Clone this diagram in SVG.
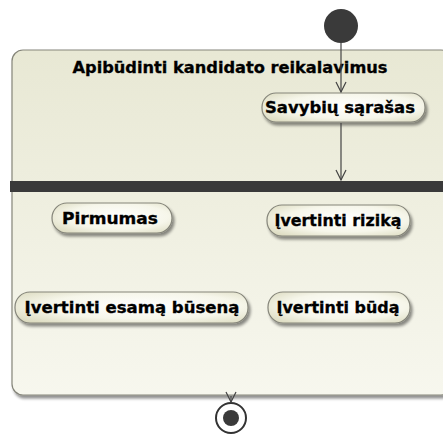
<svg xmlns="http://www.w3.org/2000/svg" width="443" height="434" viewBox="0 0 443 434">
  <defs>
    <linearGradient id="gContainer" x1="0" y1="0" x2="0" y2="1">
      <stop offset="0" stop-color="#e8e8d4"/>
      <stop offset="1" stop-color="#f7f7ee"/>
    </linearGradient>
    <radialGradient id="gAction" cx="0.55" cy="0.45" r="0.7">
      <stop offset="0" stop-color="#ffffff"/>
      <stop offset="0.6" stop-color="#f6f6ea"/>
      <stop offset="1" stop-color="#dcdbc0"/>
    </radialGradient>
    <filter id="shadow" x="-10%" y="-10%" width="130%" height="150%">
      <feGaussianBlur in="SourceAlpha" stdDeviation="1.5"/>
      <feOffset dx="2" dy="3"/>
      <feComponentTransfer><feFuncA type="linear" slope="0.45"/></feComponentTransfer>
      <feMerge><feMergeNode/><feMergeNode in="SourceGraphic"/></feMerge>
    </filter>
    <marker id="open" viewBox="0 0 12 12" refX="11" refY="6" markerWidth="12" markerHeight="12" markerUnits="userSpaceOnUse" orient="auto">
      <path d="M1,1 L11,6 L1,11" fill="none" stroke="#444" stroke-width="1.2"/>
    </marker>
    <style>
      .action { fill: url(#gAction); stroke: #85857a; stroke-width: 1.2; filter: url(#shadow); }
      .label { font-family: "DejaVu Sans", "Liberation Sans", sans-serif; font-weight: bold; font-size: 15px; fill: #000; stroke: #000; stroke-width: 0.3; }
      .edge { stroke: #444; stroke-width: 1.2; fill: none; marker-end: url(#open); }
    </style>
  </defs>

  <rect width="443" height="434" fill="#ffffff"/>

  <!-- activity region -->
  <g id="activity">
    <rect x="12" y="50" width="440" height="345" rx="11" fill="url(#gContainer)" stroke="#85857a" stroke-width="1.2" filter="url(#shadow)"/>
    <text class="label" x="230" y="73" text-anchor="middle" textLength="315" lengthAdjust="spacingAndGlyphs">Apibūdinti kandidato reikalavimus</text>
  </g>

  <!-- fork bar -->
  <g id="fork">
    <rect x="10" y="181" width="433" height="11" fill="#3a3a3a"/>
  </g>

  <!-- initial node -->
  <g id="initial">
    <circle cx="341" cy="26" r="17" fill="#3a3a3a"/>
  </g>

  <g id="savybiu">
    <rect class="action" x="262" y="93" width="163" height="29" rx="14"/>
    <text class="label" x="340" y="113" text-anchor="middle" textLength="150" lengthAdjust="spacingAndGlyphs">Savybių sąrašas</text>
  </g>

  <g id="pirmumas">
    <rect class="action" x="52" y="203" width="120" height="30" rx="15"/>
    <text class="label" x="110" y="224" text-anchor="middle" textLength="96" lengthAdjust="spacingAndGlyphs">Pirmumas</text>
  </g>

  <g id="rizika">
    <rect class="action" x="267" y="205" width="143" height="31" rx="15"/>
    <text class="label" x="338" y="226" text-anchor="middle" textLength="127" lengthAdjust="spacingAndGlyphs">Įvertinti riziką</text>
  </g>

  <g id="busena">
    <rect class="action" x="15" y="292" width="233" height="31" rx="15"/>
    <text class="label" x="132" y="313" text-anchor="middle" textLength="215" lengthAdjust="spacingAndGlyphs">Įvertinti esamą būseną</text>
  </g>

  <g id="buda">
    <rect class="action" x="268" y="292" width="142" height="31" rx="15"/>
    <text class="label" x="338" y="313" text-anchor="middle" textLength="123" lengthAdjust="spacingAndGlyphs">Įvertinti būdą</text>
  </g>

  <!-- final node -->
  <g id="final">
    <circle cx="231" cy="418" r="15" fill="#ffffff" stroke="#333" stroke-width="2"/>
    <circle cx="231" cy="418" r="8" fill="#3a3a3a"/>
  </g>

  <!-- connectors -->
  <g id="connectors">
    <line class="edge" x1="341" y1="43" x2="341" y2="92"/>
    <line class="edge" x1="341" y1="123" x2="341" y2="180"/>
    <line class="edge" x1="231" y1="396" x2="231" y2="402"/>
  </g>
</svg>
